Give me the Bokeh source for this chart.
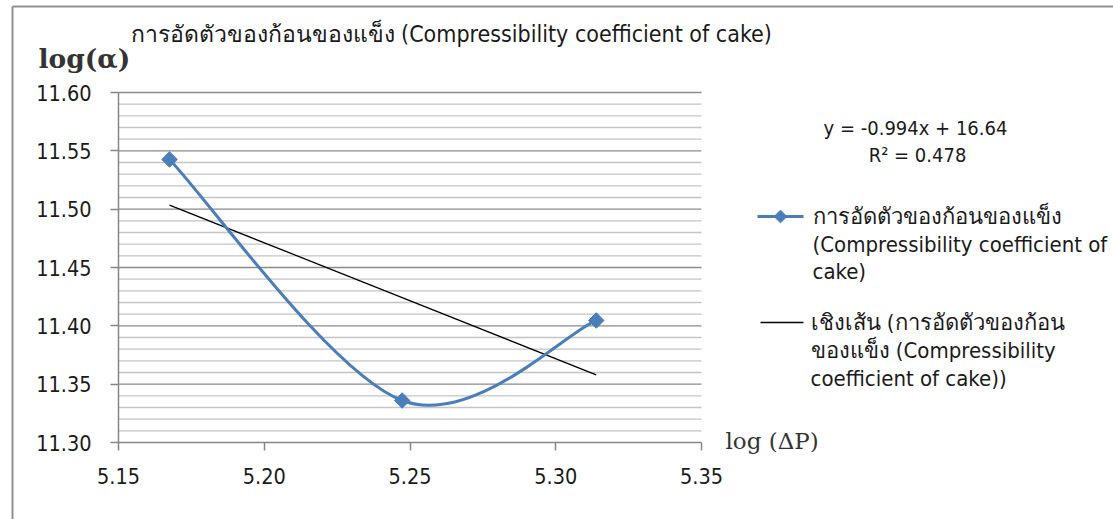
import math
from bokeh.plotting import figure
from bokeh.models import (Range1d, FixedTicker, PrintfTickFormatter, Label, LinearAxis)
from bokeh.embed import file_html
from bokeh.resources import INLINE

# ---------------- data ----------------
log_dp = [5.1675, 5.2473, 5.3139]          # log(ΔP)
log_alpha = [11.5426, 11.3360, 11.4046]    # log(α)
trend_slope = -0.994
trend_intercept = 16.64
trend_r2 = 0.478

x_ticks = [5.15, 5.20, 5.25, 5.30, 5.35]
y_ticks = [11.30, 11.35, 11.40, 11.45, 11.50, 11.55, 11.60]
y_minor = [round(11.30 + 0.01 * i, 2) for i in range(31) if i % 5 != 0]

title_text = "การอัดตัวของก้อนของแข็ง (Compressibility coefficient of cake)"
series_label = ["การอัดตัวของก้อนของแข็ง", "(Compressibility coefficient of", "cake)"]
trend_label = ["เชิงเส้น (การอัดตัวของก้อน", "ของแข็ง (Compressibility", "coefficient of cake))"]
eq_text = "y = -0.994x + 16.64"
r2_text = "R² = 0.478"

# ---------------- layout helpers ----------------
W, H = 1113, 519
FL, FR, FT, FB = 118, 701, 92, 442          # pixel box of the plot area
XMIN, XMAX, YMIN, YMAX = 5.15, 5.35, 11.30, 11.60


def dx(px):
    return XMIN + (px - FL) * (XMAX - XMIN) / (FR - FL)


def dy(py):
    return YMIN + (FB - py) * (YMAX - YMIN) / (FB - FT)


SANS = "DejaVu Sans Condensed, DejaVu Sans, sans-serif"
SERIF = "DejaVu Serif, Liberation Serif, serif"
BLUE = "#4A7EBB"
TXT = "#1a1a1a"

p = figure(width=W, height=H, output_backend="svg", toolbar_location=None,
           x_range=Range1d(dx(0), dx(W)), y_range=Range1d(dy(H), dy(0)),
           x_axis_location=None, y_axis_location=None, min_border=0)
p.outline_line_color = None
p.background_fill_color = "white"
p.border_fill_color = "white"
p.xgrid.visible = False
p.ygrid.visible = False

# axes pinned to the plot-area edges
xax = LinearAxis(ticker=FixedTicker(ticks=x_ticks), formatter=PrintfTickFormatter(format="%.2f"),
                 fixed_location=YMIN, bounds=(XMIN, XMAX))
yax = LinearAxis(ticker=FixedTicker(ticks=y_ticks), formatter=PrintfTickFormatter(format="%.2f"),
                 fixed_location=XMIN, bounds=(YMIN, YMAX))
for ax in (xax, yax):
    ax.axis_line_color = "#868686"
    ax.axis_line_width = 1.5
    ax.major_tick_line_color = "#868686"
    ax.major_tick_line_width = 1.5
    ax.major_tick_out = 8
    ax.major_tick_in = 0
    ax.minor_tick_out = 0
    ax.minor_tick_in = 0
    ax.major_label_text_font = SANS
    ax.major_label_text_font_size = "21.5px"
    ax.major_label_text_color = TXT
yax.major_label_standoff = 19
xax.major_label_standoff = 17
p.add_layout(xax, "below")
p.add_layout(yax, "left")

# horizontal gridlines (minor light, major darker)
p.segment(x0=[XMIN] * len(y_minor), x1=[XMAX] * len(y_minor), y0=y_minor, y1=y_minor,
          line_color="#c4c4c4", line_width=1.3)
p.segment(x0=[XMIN] * len(y_ticks[1:]), x1=[XMAX] * len(y_ticks[1:]), y0=y_ticks[1:], y1=y_ticks[1:],
          line_color="#8a8a8a", line_width=1.3)

# smoothed series (Excel-style smoothing: cardinal spline through the points)
n = len(log_dp)
bx0, by0, bx1, by1, cx0, cy0, cx1, cy1 = [], [], [], [], [], [], [], []
for i in range(n - 1):
    i0 = max(i - 1, 0)
    i3 = min(i + 2, n - 1)
    bx0.append(log_dp[i]); by0.append(log_alpha[i])
    bx1.append(log_dp[i + 1]); by1.append(log_alpha[i + 1])
    cx0.append(log_dp[i] + (log_dp[i + 1] - log_dp[i0]) / 6)
    cy0.append(log_alpha[i] + (log_alpha[i + 1] - log_alpha[i0]) / 6)
    cx1.append(log_dp[i + 1] - (log_dp[i3] - log_dp[i]) / 6)
    cy1.append(log_alpha[i + 1] - (log_alpha[i3] - log_alpha[i]) / 6)

# linear trendline
tx = [log_dp[0], log_dp[-1]]
ty = [trend_slope * v + trend_intercept for v in tx]
p.line(tx, ty, line_color="black", line_width=1.3)

p.bezier(x0=bx0, y0=by0, x1=bx1, y1=by1, cx0=cx0, cy0=cy0, cx1=cx1, cy1=cy1,
         line_color=BLUE, line_width=3)
p.scatter(log_dp, log_alpha, marker="square", angle=math.pi / 4, size=11,
          fill_color=BLUE, line_color=BLUE)

# outer chart border
p.segment(x0=[dx(12), dx(12)], y0=[dy(6), dy(6)], x1=[dx(12), dx(W + 20)], y1=[dy(H + 20), dy(6)],
          line_color="#8f8f8f", line_width=2)

# title and axis labels
p.add_layout(Label(x=dx(130), y=dy(33), text=title_text, text_font=SANS,
                   text_font_size="23px", text_color=TXT, text_baseline="middle"))
p.add_layout(Label(x=dx(38), y=dy(58), text="log(α)", text_font=SERIF,
                   text_font_size="26.5px", text_font_style="bold", text_color="#333333",
                   text_baseline="middle"))
p.add_layout(Label(x=dx(725), y=dy(440), text="log (ΔP)", text_font=SERIF,
                   text_font_size="23px", text_color="#333333", text_baseline="middle"))

# trendline equation
p.add_layout(Label(x=dx(915), y=dy(127), text=eq_text, text_font=SANS, text_font_size="20px",
                   text_color=TXT, text_baseline="middle", text_align="center"))
p.add_layout(Label(x=dx(917), y=dy(154), text=r2_text, text_font=SANS, text_font_size="20px",
                   text_color=TXT, text_baseline="middle", text_align="center"))

# legend samples
p.segment(x0=[dx(757)], y0=[dy(216)], x1=[dx(803)], y1=[dy(216)], line_color=BLUE, line_width=3)
p.scatter([dx(780)], [dy(216)], marker="square", angle=math.pi / 4, size=9,
          fill_color=BLUE, line_color=BLUE)
p.segment(x0=[dx(760)], y0=[dy(322)], x1=[dx(803)], y1=[dy(322)], line_color="black", line_width=1.3)
for k, t in enumerate(series_label):
    p.add_layout(Label(x=dx(812), y=dy(216 + 27.5 * k), text=t, text_font=SANS,
                       text_font_size="22px", text_color=TXT, text_baseline="middle"))
for k, t in enumerate(trend_label):
    p.add_layout(Label(x=dx(810), y=dy(322 + 28 * k), text=t, text_font=SANS,
                       text_font_size="22px", text_color=TXT, text_baseline="middle"))

open("out.html", "w").write(file_html(p, INLINE))
